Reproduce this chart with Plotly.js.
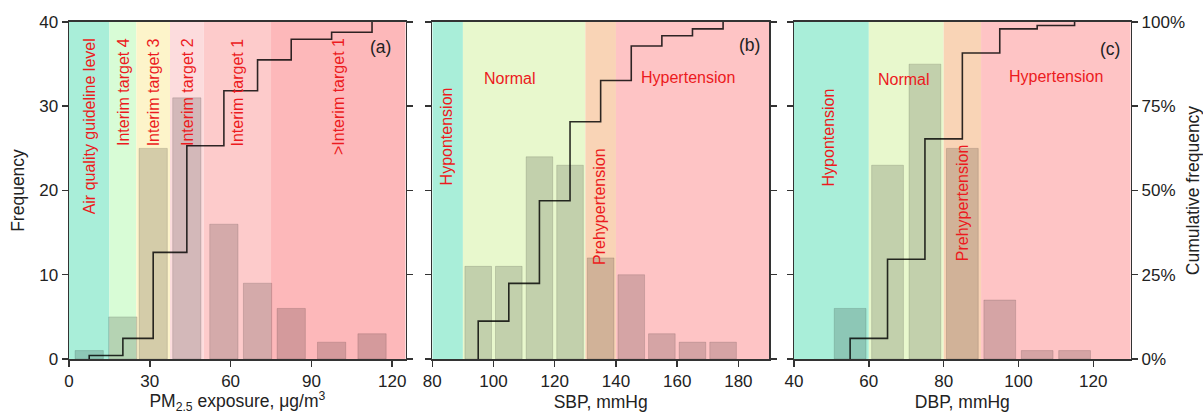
<!DOCTYPE html>
<html>
<head>
<meta charset="utf-8">
<script src="https://cdn.plot.ly/plotly-3.0.1.min.js"></script>
<style>html,body{margin:0;padding:0;background:#fff;}#chart{width:1203px;height:414px;}</style>
</head>
<body>
<div id="chart"></div>
<script>
// ---------- data ----------
const pmCentres = [7.5, 20, 31.25, 43.75, 57.5, 70, 82.5, 97.5, 112.5];
const pmCounts  = [1, 5, 25, 31, 16, 9, 6, 2, 3];
const sbpCentres = [95, 105, 115, 125, 135, 145, 155, 165, 175];
const sbpCounts  = [11, 11, 24, 23, 12, 10, 3, 2, 2];
const dbpCentres = [55, 65, 75, 85, 95, 105, 115];
const dbpCounts  = [6, 23, 35, 25, 7, 1, 1];

const pmZoneEdges  = [0, 15, 25, 37.5, 50, 75, 125];
const pmZoneLabels = ['Air quality guideline level', 'Interim target 4', 'Interim target 3', 'Interim target 2', 'Interim target 1', '>Interim target 1'];
const sbpZoneEdges = [80, 90, 130, 140, 190];
const dbpZoneEdges = [40, 60, 80, 90, 130];
const bpZoneLabels = ['Hypontension', 'Normal', 'Prehypertension', 'Hypertension'];

const panelLabels = ['(a)', '(b)', '(c)'];
const xTitles = ['PM<sub>2.5</sub> exposure, μg/m<sup>3</sup>', 'SBP, mmHg', 'DBP, mmHg'];
const yTitle = 'Frequency';
const y2Title = 'Cumulative frequency';

// ---------- styles ----------
const pmZoneColors = ['#a9eed9', '#d8fcd6', '#fdf4ca', '#fcdcdd', '#fdcbcb', '#fdb8ba'];
const bpZoneColors = ['#a9eed9', '#e8f8cd', '#f9d4b6', '#fec4c5'];
const red = 'rgb(236,26,32)';
const font = 'Liberation Sans, Arial, sans-serif';
const axisCol = '#333';

function cumulative(centres, counts) {
  const total = counts.reduce((a, b) => a + b, 0);
  let run = 0;
  const xs = [centres[0]], ys = [0];
  counts.forEach((c, i) => { run += c; xs.push(centres[i]); ys.push(run / total * 100); });
  return {x: xs, y: ys};
}

const panels = [
  {c: pmCentres, n: pmCounts, w: 10.5, xr: [0, 125], dt: 30, edges: pmZoneEdges, cols: pmZoneColors},
  {c: sbpCentres, n: sbpCounts, w: 8.7, xr: [80, 190], dt: 20, edges: sbpZoneEdges, cols: bpZoneColors},
  {c: dbpCentres, n: dbpCounts, w: 8.5, xr: [40, 130], dt: 20, edges: dbpZoneEdges, cols: bpZoneColors}
];
const xDomains = [[0.05736, 0.33724], [0.35935, 0.63924], [0.66002, 0.93990]];
const yDomain = [0.13285, 0.94686];

const traces = [];
const shapes = [];
const layout = {
  width: 1203, height: 414,
  margin: {l: 0, r: 0, t: 0, b: 0},
  paper_bgcolor: '#fff', plot_bgcolor: 'rgba(0,0,0,0)',
  showlegend: false,
  font: {family: font, color: '#222', size: 17},
  bargap: 0,
  barmode: 'overlay',
  shapes: shapes,
  annotations: []
};

panels.forEach((p, i) => {
  const k = i + 1;
  const xa = 'x' + (k === 1 ? '' : k);
  const ya = 'y' + (k === 1 ? '' : k);
  const yc = 'y' + (k + 3);
  traces.push({
    type: 'bar', x: p.c, y: p.n, width: p.w, xaxis: xa, yaxis: ya,
    marker: {color: 'rgba(0,0,0,0.16)', line: {color: 'rgba(0,0,0,0.13)', width: 1}},
    hoverinfo: 'x+y'
  });
  const cu = cumulative(p.c, p.n);
  traces.push({
    type: 'scatter', mode: 'lines', x: cu.x, y: cu.y, xaxis: xa, yaxis: yc,
    line: {shape: 'hv', color: 'rgba(0,0,0,0.82)', width: 1.6}
  });
  for (let z = 0; z < p.edges.length - 1; z++) {
    shapes.push({type: 'rect', layer: 'below', xref: xa, yref: ya + ' domain',
      x0: p.edges[z], x1: p.edges[z + 1], y0: 0, y1: 1,
      fillcolor: p.cols[z], line: {width: 0}});
  }
  layout['xaxis' + (k === 1 ? '' : k)] = {
    domain: xDomains[i], anchor: ya, range: p.xr, dtick: p.dt, tick0: 0,
    showgrid: false, zeroline: false, showline: true, linecolor: axisCol, linewidth: 1.5,
    mirror: true, ticks: 'outside', ticklen: 6, tickwidth: 1.5, tickcolor: axisCol,
    tickfont: {size: 17, color: '#222'},
    title: {text: xTitles[i], font: {size: 17.5, color: '#222'}, standoff: 6}
  };
  const yax = {
    domain: yDomain, anchor: xa, range: [0, 40], dtick: 10,
    showgrid: false, zeroline: false, showline: true, linecolor: axisCol, linewidth: 1.5,
    mirror: 'ticks', ticks: 'outside', ticklen: 6, tickwidth: 1.5, tickcolor: axisCol,
    showticklabels: k === 1, tickfont: {size: 17, color: '#222'}
  };
  if (k === 1) yax.title = {text: yTitle, font: {size: 17.5, color: '#222'}, standoff: 10};
  layout['yaxis' + (k === 1 ? '' : k)] = yax;
  const cax = {
    overlaying: ya, anchor: xa, side: 'right', range: [0, 100], dtick: 25,
    showgrid: false, zeroline: false,
    showline: k === 3, linecolor: axisCol, linewidth: 1.5,
    ticks: k === 3 ? 'outside' : '', ticklen: 6, tickwidth: 1.5, tickcolor: axisCol,
    showticklabels: k === 3, ticksuffix: '%', tickfont: {size: 17, color: '#222'}
  };
  if (k === 3) cax.title = {text: y2Title, font: {size: 17.5, color: '#222'}, standoff: 10};
  layout['yaxis' + (k + 3)] = cax;
});

const A = layout.annotations;
function vtext(txt, xa, ya, x, yTop) {
  A.push({text: txt, xref: xa, yref: ya + ' domain', x: x, y: yTop, textangle: -90,
    xanchor: 'center', yanchor: 'top', showarrow: false, font: {size: 16, color: red}});
}
function htext(txt, xa, ya, x, y) {
  A.push({text: txt, xref: xa, yref: ya + ' domain', x: x, y: y,
    xanchor: 'center', yanchor: 'middle', showarrow: false, font: {size: 16, color: red}});
}
// panel (a)
[7.5, 20, 31.25, 43.75, 62.5, 100].forEach((xv, j) => vtext(pmZoneLabels[j], 'x', 'y', xv, 0.958));
// panel (b)
vtext(bpZoneLabels[0], 'x2', 'y2', 84.6, 0.813);
htext(bpZoneLabels[1], 'x2', 'y2', 105.4, 0.831);
vtext(bpZoneLabels[2], 'x2', 'y2', 134.6, 0.632);
htext(bpZoneLabels[3], 'x2', 'y2', 163.7, 0.836);
// panel (c)
vtext(bpZoneLabels[0], 'x3', 'y3', 49.2, 0.810);
htext(bpZoneLabels[1], 'x3', 'y3', 69.5, 0.830);
vtext(bpZoneLabels[2], 'x3', 'y3', 85.1, 0.644);
htext(bpZoneLabels[3], 'x3', 'y3', 110, 0.839);
// panel letters
[[115.8, 0.927], [183.5, 0.932], [124.5, 0.92]].forEach((pos, j) => {
  const xa = 'x' + (j === 0 ? '' : j + 1), ya = 'y' + (j === 0 ? '' : j + 1);
  A.push({text: panelLabels[j], xref: xa, yref: ya + ' domain', x: pos[0], y: pos[1],
    xanchor: 'center', yanchor: 'middle', showarrow: false, font: {size: 17.5, color: '#222'}});
});

Plotly.newPlot('chart', traces, layout, {staticPlot: true, displayModeBar: false});
</script>
</body>
</html>
